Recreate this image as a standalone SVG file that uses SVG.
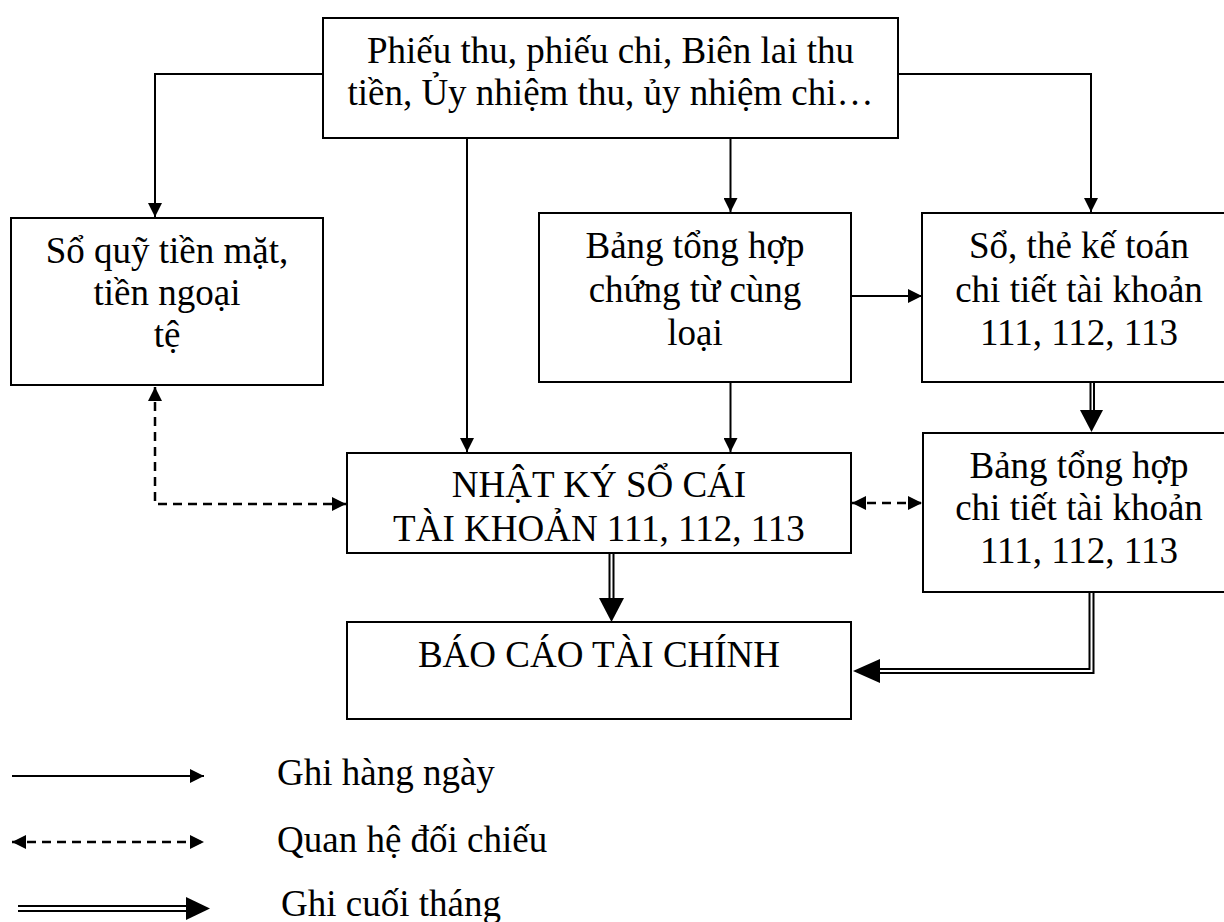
<svg xmlns="http://www.w3.org/2000/svg" width="1224" height="922" viewBox="0 0 1224 922">
<style>
.box{fill:#fff;stroke:#000;stroke-width:2}
.t{font-family:"Liberation Serif","Times New Roman",serif;font-size:37px;fill:#000;text-anchor:middle}
.tl{font-family:"Liberation Serif","Times New Roman",serif;font-size:37px;fill:#000}
.ln{fill:none;stroke:#000;stroke-width:2}
.dl{fill:none;stroke:#000;stroke-width:2.5;stroke-dasharray:9 6}
.dbl{fill:none;stroke:#000;stroke-width:2}
.ah{fill:#000}
</style>
<defs>
<marker id="arr" viewBox="0 0 14 14" refX="14" refY="7" markerWidth="14" markerHeight="14" markerUnits="userSpaceOnUse" orient="auto-start-reverse">
<path d="M0,0 L14,7 L0,14 z" fill="#000"/>
</marker>
</defs>
<rect width="1224" height="922" fill="#fff"/>

<g id="connectors">
<path class="ln" d="M322,74 L155,74 L155,217" marker-end="url(#arr)"/>
<path class="ln" d="M898,74 L1091,74 L1091,212" marker-end="url(#arr)"/>
<path class="ln" d="M730.5,138 L730.5,212" marker-end="url(#arr)"/>
<path class="ln" d="M467,138 L467,452" marker-end="url(#arr)"/>
<path class="ln" d="M730.5,382 L730.5,452" marker-end="url(#arr)"/>
<path class="ln" d="M851,296 L922,296" marker-end="url(#arr)"/>
<path class="dl" d="M155,387 L155,504 L346,504" marker-start="url(#arr)" marker-end="url(#arr)"/>
<path class="dl" d="M852,503 L922,503" marker-start="url(#arr)" marker-end="url(#arr)"/>
<path class="dbl" d="M1090.5,382 V412 M1094,382 V412"/>
<polygon class="ah" points="1080,410 1103,410 1091.5,432"/>
<path class="dbl" d="M609.5,553 V600 M613.5,553 V600"/>
<polygon class="ah" points="599,598 624,598 611.5,622"/>
<path class="dbl" d="M1089.5,592 V669 H876 M1093.5,592 V673 H876"/>
<polygon class="ah" points="880,659 880,683 853,671"/>
</g>

<g id="n-top">
<rect class="box" x="323" y="18" width="575" height="120"/>
<text class="t" x="610.5" y="63">Phiếu thu, phiếu chi, Biên lai thu</text>
<text class="t" x="610.5" y="105">tiền, Ủy nhiệm thu, ủy nhiệm chi…</text>
</g>
<g id="n-soquy">
<rect class="box" x="11" y="218" width="312" height="167"/>
<text class="t" x="167" y="263">Sổ quỹ tiền mặt,</text>
<text class="t" x="167" y="305">tiền ngoại</text>
<text class="t" x="167" y="347">tệ</text>
</g>
<g id="n-bangtonghop">
<rect class="box" x="539" y="213" width="312" height="169"/>
<text class="t" x="695" y="258">Bảng tổng hợp</text>
<text class="t" x="695" y="302">chứng từ cùng</text>
<text class="t" x="695" y="345">loại</text>
</g>
<g id="n-sothe">
<rect class="box" x="922" y="213" width="314" height="169"/>
<text class="t" x="1079" y="258">Sổ, thẻ kế toán</text>
<text class="t" x="1079" y="302">chi tiết tài khoản</text>
<text class="t" x="1079" y="345">111, 112, 113</text>
</g>
<g id="n-nhatky">
<rect class="box" x="347" y="453" width="504" height="100"/>
<text class="t" x="599" y="497">NHẬT KÝ SỔ CÁI</text>
<text class="t" x="599" y="541">TÀI KHOẢN 111, 112, 113</text>
</g>
<g id="n-bangchitiet">
<rect class="box" x="923" y="433" width="313" height="159"/>
<text class="t" x="1079" y="478">Bảng tổng hợp</text>
<text class="t" x="1079" y="520">chi tiết tài khoản</text>
<text class="t" x="1079" y="563">111, 112, 113</text>
</g>
<g id="n-baocao">
<rect class="box" x="347" y="622" width="504" height="97"/>
<text class="t" x="599" y="667">BÁO CÁO TÀI CHÍNH</text>
</g>

<g id="legend">
<path class="ln" d="M12,776 L204,776" marker-end="url(#arr)"/>
<text class="tl" x="277" y="785">Ghi hàng ngày</text>
<path class="dl" d="M12,842 L204,842" marker-start="url(#arr)" marker-end="url(#arr)"/>
<text class="tl" x="277" y="852">Quan hệ đối chiếu</text>
<path class="dbl" d="M18,906 H188 M18,911 H188"/>
<polygon class="ah" points="186,897 186,920 210,908.5"/>
<text class="tl" x="281" y="916">Ghi cuối tháng</text>
</g>
</svg>
